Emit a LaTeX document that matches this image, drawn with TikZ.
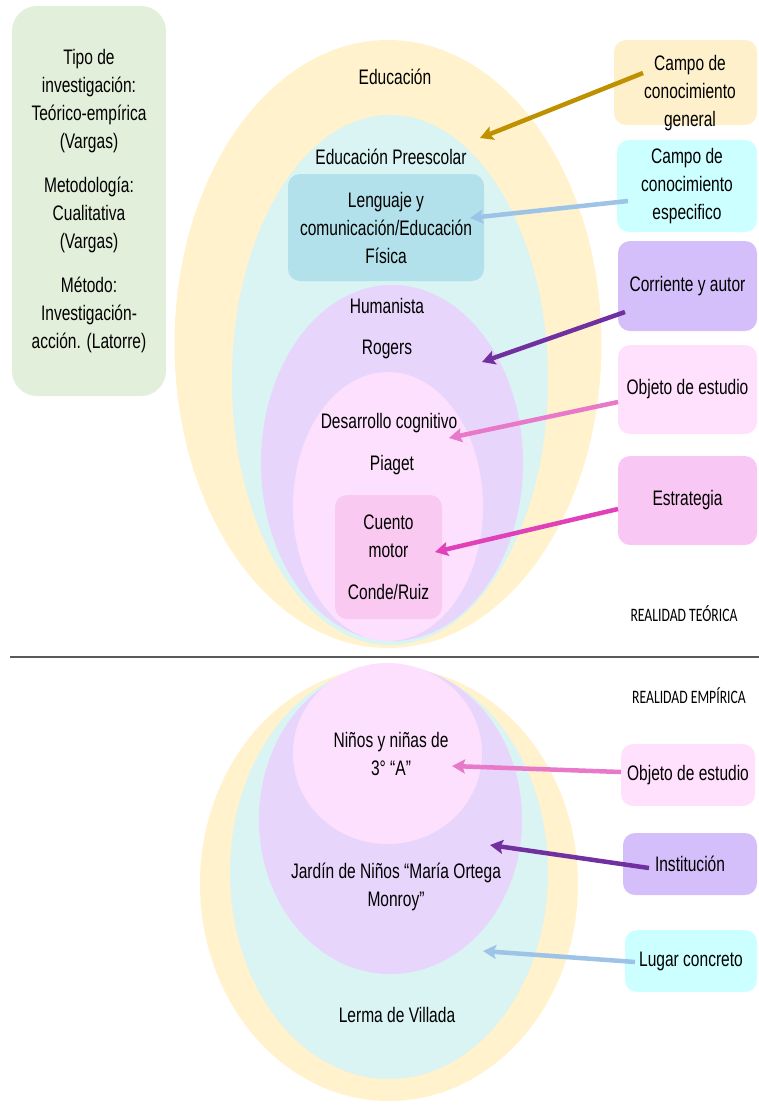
\documentclass[tikz,border=0pt]{standalone}
\usepackage{fontspec}
\setmainfont{Liberation Sans}[FakeStretch=0.74]
\newfontfamily\realfont{Carlito}[FakeStretch=0.72]
\usetikzlibrary{shapes.geometric,arrows.meta,calc}

\definecolor{metgreen}{HTML}{E2EFDA}
\definecolor{eduyel}{HTML}{FFF2CC}
\definecolor{precyan}{HTML}{DAF3F3}
\definecolor{lenblue}{HTML}{B3E1EB}
\definecolor{humlila}{HTML}{E8D5FB}
\definecolor{despink}{HTML}{FDE0FD}
\definecolor{cuepink}{HTML}{F9C9F2}
\definecolor{boxyel}{HTML}{FFF0CC}
\definecolor{boxcyan}{HTML}{CCFFFF}
\definecolor{boxlila}{HTML}{D5BFFB}
\definecolor{boxpink}{HTML}{FFE0FD}
\definecolor{boxmag}{HTML}{F9C7F3}
\definecolor{argold}{HTML}{BF9000}
\definecolor{arblue}{HTML}{9DC3E6}
\definecolor{arlila}{HTML}{7030A0}
\definecolor{arpink}{HTML}{E878C8}
\definecolor{armag}{HTML}{E040B8}

\tikzset{
  zone/.style={ellipse, inner sep=0pt, outer sep=0pt, draw=none},
  tag/.style={rounded corners=12pt, inner sep=0pt, outer sep=0pt, draw=none,
    align=center, font=\fontsize{21}{28}\selectfont},
  lbl/.style={align=center, inner sep=0pt, font=\fontsize{21}{28}\selectfont},
  real/.style={inner sep=0pt, font=\realfont\fontsize{19}{22}\selectfont},
  link/.style={line width=4.5pt, -{Stealth[length=13pt,width=14pt,inset=2.5pt]}},
}

\begin{document}
\begin{tikzpicture}[x=1pt,y=-1pt]
\useasboundingbox (0,0) rectangle (759,1109);

\node[tag, rounded corners=25pt, fill=metgreen, minimum width=154pt, minimum height=390pt] (met) at (89,201)
  {Tipo de\\investigación:\\Teórico-empírica\\(Vargas)\\[16pt]Metodología:\\Cualitativa\\(Vargas)\\[16pt]Método:\\Investigación-\\acción. (Latorre)};

\node[zone, fill=eduyel, minimum width=427pt, minimum height=608pt] (edu) at (388,344) {};
\node[zone, fill=precyan, minimum width=316pt, minimum height=530pt] (pre) at (390,380) {};
\node[tag, fill=lenblue, minimum width=196pt, minimum height=107pt] (len) at (386,227.5)
  {Lenguaje y\\comunicación/Educación\\Física};
\node[zone, fill=humlila, minimum width=262pt, minimum height=356pt] (hum) at (392,463) {};
\node[zone, fill=despink, minimum width=190pt, minimum height=269pt] (des) at (388,506.5) {};
\node[tag, fill=cuepink, minimum width=107pt, minimum height=124pt] (cue) at (388.5,557)
  {Cuento\\motor\\[14pt]Conde/Ruiz};

\node[lbl] (tEdu) at (395,77) {Educación};
\node[lbl] (tPre) at (391,157) {Educación Preescolar};
\node[lbl] (tHum) at (387,306) {Humanista};
\node[lbl] (tRog) at (387,349) {Rogers};
\node[lbl] (tDes) at (389,423) {Desarrollo cognitivo};
\node[lbl] (tPia) at (392,465) {Piaget};

\node[tag, fill=boxyel, minimum width=143pt, minimum height=85pt] (gen) at (685.5,82.5) {};
\node[lbl] (tGen) at (690,93.5) {Campo de\\conocimiento\\general};
\node[tag, fill=boxcyan, minimum width=140pt, minimum height=92pt] (esp) at (687,186)
  {Campo de\\conocimiento\\especifico};
\node[tag, fill=boxlila, minimum width=139pt, minimum height=90pt] (cor) at (687.5,286) {Corriente y autor};
\node[tag, fill=boxpink, minimum width=139pt, minimum height=89pt] (obj) at (687.5,389.5) {Objeto de estudio};
\node[tag, fill=boxmag, minimum width=139pt, minimum height=89pt] (est) at (687.5,500.5) {Estrategia};

\node[real] (teo) at (684,614) {REALIDAD TEÓRICA};
\draw[line width=1.5pt, black!65] (10,657) -- (759,657);
\node[real] (emp) at (689,696) {REALIDAD EMPÍRICA};

\node[zone, fill=eduyel, minimum width=378pt, minimum height=434pt] (ler) at (389,884) {};
\node[zone, fill=precyan, minimum width=318pt, minimum height=413pt] (ler2) at (389,872.5) {};
\node[zone, fill=humlila, minimum width=263pt, minimum height=309pt] (jar) at (390.5,819.5) {};
\node[zone, fill=despink, minimum width=189pt, minimum height=181pt] (nin) at (387.5,753.5) {};

\node[lbl] (tNin) at (391,754) {Niños y niñas de\\3° “A”};
\node[lbl] (tJar) at (396,887) {Jardín de Niños “María Ortega\\Monroy”};
\node[lbl] (tLer) at (397,1015) {Lerma de Villada};

\node[tag, fill=boxpink, minimum width=134pt, minimum height=62pt] (obj2) at (688,775) {Objeto de estudio};
\node[tag, fill=boxlila, minimum width=134pt, minimum height=62pt] (ins) at (690,864) {Institución};
\node[tag, fill=boxcyan, minimum width=132pt, minimum height=62pt] (lug) at (691,961) {Lugar concreto};

\coordinate (pEdu) at (480,138);
\coordinate (pLen) at (470,218);
\coordinate (pHum) at (482,362);
\coordinate (pDes) at (449,438);
\coordinate (pCue) at (435,552);
\coordinate (pNin) at (452,766);
\coordinate (pJar) at (490,845);
\coordinate (pLer) at (483,951);

\foreach \b/\dx/\dy/\t/\c in {gen/-42.5/-9.5/pEdu/argold, esp/-59/15/pLen/arblue,
    cor/-62.5/26/pHum/arlila, obj/-69.5/12.5/pDes/arpink, est/-69.5/8.5/pCue/armag,
    obj2/-67/-3/pNin/arpink, ins/-41/4/pJar/arlila, lug/-56/1/pLer/arblue}
  \draw[link,\c] ($(\b)+(\dx,\dy)$) -- (\t);
\end{tikzpicture}
\end{document}
